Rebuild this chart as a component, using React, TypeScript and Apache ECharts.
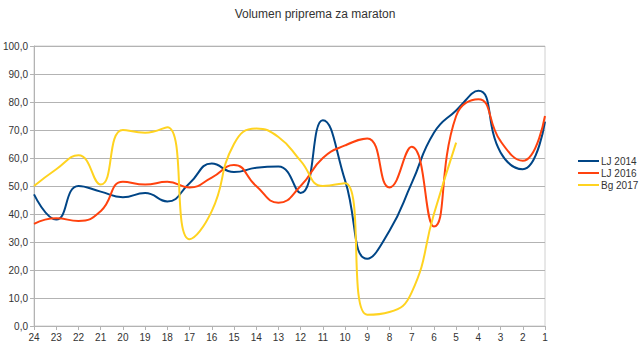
import React, { useEffect, useRef } from "react";
import * as echarts from "echarts";

const categories = ["24","23","22","21","20","19","18","17","16","15","14","13","12","11","10","9","8","7","6","5","4","3","2","1"];
const lj2014 = [47, 38, 50, 48, 46, 47.5, 44.5, 51, 58, 55, 56.5, 57, 47.5, 73.5, 52, 24, 34, 51, 69, 77, 84, 62, 56, 73];
const lj2016 = [36.5, 38.5, 37.5, 41, 51.5, 50.5, 51.5, 49.5, 53, 57.5, 50, 44, 50, 60, 64.5, 67, 49.5, 64, 35.5, 75, 81, 66, 59, 75];
const bg2017: (number | null)[] = [50, 56, 61, 50.5, 70, 69, 71, 31, 41, 65, 70.5, 67.5, 59, 50, 51, 4, 5, 12, 40, 65.5, null, null, null, null];
const seriesNames = ["LJ 2014", "LJ 2016", "Bg 2017"];
const colors = ["#004586", "#ff420e", "#ffd320"];

export default function App() {
  const ref = useRef<HTMLDivElement>(null);
  useEffect(() => {
    if (!ref.current) return;
    const chart = echarts.init(ref.current, null, { renderer: "svg" });
    const font = "Liberation Sans";
    const mk = (name: string, data: (number | null)[], color: string) => ({
      name,
      type: "line",
      data,
      smooth: 0.5,
      symbol: "none",
      lineStyle: { color, width: 2 },
      itemStyle: { color },
    });
    chart.setOption({
      animation: false,
      textStyle: { fontFamily: font },
      title: {
        text: "Volumen priprema za maraton",
        left: 310,
        textAlign: "center",
        top: 3,
        textStyle: { fontSize: 12, fontWeight: "normal", color: "#333", fontFamily: font },
      },
      legend: {
        orient: "vertical",
        left: 573,
        top: 151,
        itemWidth: 21,
        itemHeight: 2,
        itemGap: 2,
        icon: "rect",
        textStyle: { fontSize: 10, color: "#333", fontFamily: font, padding: [0, 0, 0, -3] },
        data: seriesNames,
      },
      grid: {
        left: 34,
        right: 95,
        top: 46,
        bottom: 24,
        show: true,
        borderColor: "#d0d0d0",
        borderWidth: 1,
      },
      xAxis: {
        type: "category",
        data: categories,
        boundaryGap: false,
        axisLine: { lineStyle: { color: "#b3b3b3" } },
        axisTick: { show: true, length: 4, lineStyle: { color: "#b3b3b3" } },
        axisLabel: { fontSize: 10, color: "#333", margin: 6, fontFamily: font },
      },
      yAxis: {
        type: "value",
        min: 0,
        max: 100,
        interval: 10,
        axisLine: { show: true, lineStyle: { color: "#b3b3b3" } },
        axisTick: { show: true, length: 4, lineStyle: { color: "#b3b3b3" } },
        axisLabel: {
          fontSize: 10,
          color: "#333",
          margin: 6,
          fontFamily: font,
          formatter: (v: number) => v.toFixed(1).replace(".", ","),
        },
        splitLine: { lineStyle: { color: "#b3b3b3" } },
      },
      series: [
        mk(seriesNames[0], lj2014, colors[0]),
        mk(seriesNames[1], lj2016, colors[1]),
        mk(seriesNames[2], bg2017, colors[2]),
      ],
    });
    return () => chart.dispose();
  }, []);
  return <div ref={ref} style={{ width: 640, height: 350, position: "absolute", left: 0, top: 0 }} />;
}
